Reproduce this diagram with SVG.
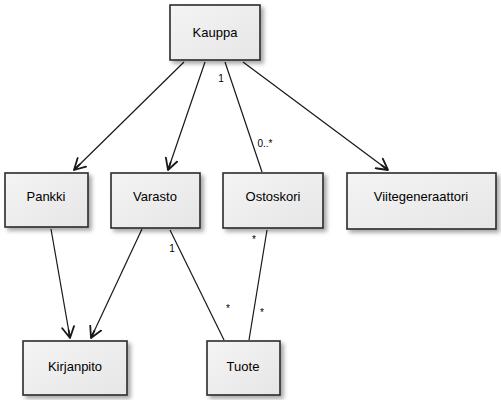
<svg xmlns="http://www.w3.org/2000/svg" width="501" height="400" viewBox="0 0 501 400">
<defs>
<linearGradient id="g" x1="0" y1="0" x2="1" y2="1">
<stop offset="0" stop-color="#F4F4F4"/>
<stop offset="1" stop-color="#E6E6E6"/>
</linearGradient>
<filter id="sh" x="-20%" y="-20%" width="150%" height="150%">
<feGaussianBlur in="SourceAlpha" stdDeviation="2"/>
<feOffset dx="3" dy="3" result="b"/>
<feComponentTransfer><feFuncA type="linear" slope="0.35"/></feComponentTransfer>
<feMerge><feMergeNode/><feMergeNode in="SourceGraphic"/></feMerge>
</filter>
<marker id="arr" viewBox="0 0 14 14" refX="12" refY="7" markerWidth="14" markerHeight="14" markerUnits="userSpaceOnUse" orient="auto">
<path d="M1,1 L12,7 L1,13 M12,7 L4,7" fill="none" stroke="#181818" stroke-width="1.8" stroke-linecap="round" stroke-linejoin="round"/>
</marker>
</defs>
<style>
.box{fill:url(#g);stroke:#2a2a2a;stroke-width:1.6;filter:url(#sh)}
.lbl{font-family:"Liberation Sans",Arial,sans-serif;font-size:13px;fill:#000;text-anchor:middle}
.m{font-family:"Liberation Sans",Arial,sans-serif;font-size:10px;fill:#000;text-anchor:middle}
.e{stroke:#181818;stroke-width:1.2;fill:none}
</style>
<g id="connectors">
<path class="e" d="M184,62 L74,170" marker-end="url(#arr)"/>
<path class="e" d="M205,62 L168,170" marker-end="url(#arr)"/>
<path class="e" d="M225,62 L262,172"/>
<path class="e" d="M243,62 L388,170" marker-end="url(#arr)"/>
<path class="e" d="M51,229 L70,338" marker-end="url(#arr)"/>
<path class="e" d="M142,229 L91,338" marker-end="url(#arr)"/>
<path class="e" d="M170,230 L224,340"/>
<path class="e" d="M267,230 L249,340"/>
<text class="m" x="221" y="82">1</text>
<text class="m" x="265" y="147">0..*</text>
<text class="m" x="172" y="252">1</text>
<text class="m" x="228" y="312">*</text>
<text class="m" x="254" y="243">*</text>
<text class="m" x="262" y="316">*</text>
</g>
<g id="Kauppa"><rect class="box" x="170" y="5" width="90" height="55"/><text class="lbl" x="215" y="37">Kauppa</text></g>
<g id="Pankki"><rect class="box" x="5" y="173" width="83" height="54"/><text class="lbl" x="46" y="201">Pankki</text></g>
<g id="Varasto"><rect class="box" x="111" y="173" width="89" height="55"/><text class="lbl" x="155" y="201">Varasto</text></g>
<g id="Ostoskori"><rect class="box" x="223" y="173" width="100" height="55"/><text class="lbl" x="273" y="201">Ostoskori</text></g>
<g id="Viitegeneraattori"><rect class="box" x="347" y="173" width="149" height="56"/><text class="lbl" x="421" y="201">Viitegeneraattori</text></g>
<g id="Kirjanpito"><rect class="box" x="23" y="341" width="104" height="54"/><text class="lbl" x="75" y="371">Kirjanpito</text></g>
<g id="Tuote"><rect class="box" x="207" y="341" width="73" height="54"/><text class="lbl" x="243" y="371">Tuote</text></g>
</svg>
